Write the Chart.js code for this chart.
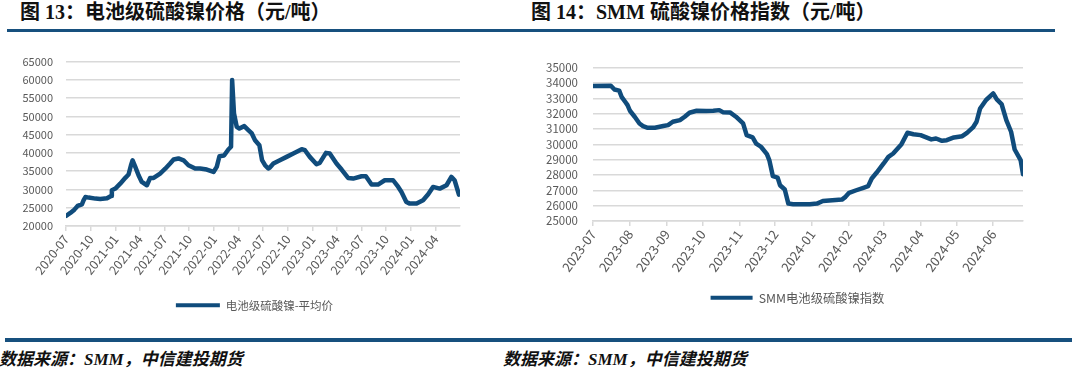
<!DOCTYPE html>
<html><head><meta charset="utf-8">
<script src="https://cdn.jsdelivr.net/npm/chart.js@4.4.1/dist/chart.umd.min.js"></script>
<style>
body{margin:0;width:1080px;height:377px;background:#fff;position:relative;overflow:hidden;font-family:"Noto Sans CJK SC",sans-serif;}
.title{position:absolute;top:0;font-family:"Liberation Serif","Noto Sans CJK SC",serif;font-weight:bold;font-size:20px;line-height:25px;color:#111;white-space:nowrap;}
.rule{position:absolute;background:#17507e;height:3px;}
.src{position:absolute;top:349px;font-family:"Liberation Serif","Noto Sans CJK SC",serif;font-weight:bold;font-style:italic;font-size:17px;line-height:22px;color:#111;white-space:nowrap;}
canvas{position:absolute;}
</style></head>
<body>
<div class="title" style="left:20px">图 13：电池级硫酸镍价格（元/吨）</div>
<div class="title" style="left:531px">图 14：SMM 硫酸镍价格指数（元/吨）</div>
<div class="rule" style="left:7px;width:1048px;top:29px"></div>
<div class="rule" style="left:5px;width:1067px;top:338px;height:3.5px"></div>
<div class="src" style="left:-1px">数据来源：SMM，中信建投期货</div>
<div class="src" style="left:503px">数据来源：SMM，中信建投期货</div>
<canvas id="c1" width="540" height="281" style="left:0;top:40px"></canvas>
<canvas id="c2" width="540" height="274" style="left:540px;top:40px"></canvas>
<script>
// ---- Chart 13 data ----
const leftSeriesName = '电池级硫酸镍-平均价';
const leftDates = ['2020-07-01','2020-07-17','2020-08-01','2020-08-13','2020-08-29','2020-09-04','2020-09-11','2020-09-23','2020-10-18','2020-11-05','2020-11-30','2020-12-15','2020-12-18','2020-12-31','2021-01-18','2021-02-06','2021-02-18','2021-02-27','2021-03-05','2021-03-15','2021-03-27','2021-04-08','2021-04-27','2021-05-09','2021-05-22','2021-06-15','2021-07-04','2021-07-22','2021-08-04','2021-08-22','2021-09-10','2021-09-28','2021-10-23','2021-11-10','2021-12-05','2021-12-30','2022-01-11','2022-01-21','2022-02-07','2022-02-23','2022-03-05','2022-03-09','2022-03-16','2022-03-26','2022-04-05','2022-04-23','2022-05-08','2022-05-21','2022-06-02','2022-06-18','2022-06-28','2022-07-09','2022-07-21','2022-07-27','2022-08-09','2022-09-02','2022-09-27','2022-10-22','2022-11-22','2022-12-04','2022-12-22','2023-01-16','2023-01-28','2023-02-20','2023-03-06','2023-03-31','2023-04-19','2023-05-13','2023-06-01','2023-07-02','2023-07-18','2023-08-08','2023-09-01','2023-09-26','2023-10-27','2023-11-15','2023-11-27','2023-12-15','2023-12-28','2024-01-22','2024-02-15','2024-03-05','2024-03-23','2024-04-17','2024-05-12','2024-05-30','2024-06-11','2024-06-27'];
const leftValues = [22750,23570,24480,25500,25950,27000,27950,27780,27500,27400,27600,28230,29800,30250,31600,33200,34100,36650,38000,36200,33900,32080,31160,33170,33170,34360,35700,37100,38200,38500,38000,36650,35750,35750,35460,34800,36200,39100,39300,40950,41700,60000,50800,47170,46700,47350,46260,45340,43510,42140,38020,36650,35740,36000,37100,38000,38930,39850,41040,40760,38930,36920,37290,40030,39850,37100,35460,33170,32990,33630,33630,31340,31340,32530,32530,30700,29330,26590,26130,26130,27040,28690,30700,30240,31160,33440,32530,28600];
const leftTickLabels = ['2020-07','2020-10','2021-01','2021-04','2021-07','2021-10','2022-01','2022-04','2022-07','2022-10','2023-01','2023-04','2023-07','2023-10','2024-01','2024-04'];
const leftRange = ['2020-07-01','2024-07-01'];
const leftY = [20000, 65000, 5000];

// ---- Chart 14 data ----
const rightSeriesName = 'SMM电池级硫酸镍指数';
const rightDates = ['2023-07-01','2023-07-16','2023-07-19','2023-07-23','2023-07-25','2023-07-28','2023-07-30','2023-08-01','2023-08-05','2023-08-09','2023-08-12','2023-08-16','2023-08-22','2023-08-29','2023-09-02','2023-09-06','2023-09-12','2023-09-16','2023-09-20','2023-09-26','2023-10-04','2023-10-10','2023-10-15','2023-10-18','2023-10-24','2023-10-29','2023-11-04','2023-11-07','2023-11-12','2023-11-15','2023-11-19','2023-11-24','2023-11-26','2023-11-29','2023-12-03','2023-12-05','2023-12-09','2023-12-12','2023-12-16','2023-12-30','2024-01-05','2024-01-10','2024-01-18','2024-01-26','2024-01-29','2024-02-01','2024-02-07','2024-02-13','2024-02-17','2024-02-20','2024-02-24','2024-03-01','2024-03-05','2024-03-09','2024-03-16','2024-03-21','2024-03-26','2024-04-01','2024-04-10','2024-04-14','2024-04-19','2024-04-23','2024-04-29','2024-05-06','2024-05-10','2024-05-15','2024-05-18','2024-05-21','2024-05-26','2024-06-01','2024-06-04','2024-06-08','2024-06-12','2024-06-16','2024-06-19','2024-06-24','2024-06-26'];
const rightValues = [33800,33820,33580,33500,33100,32780,32560,32190,31800,31360,31190,31080,31080,31190,31250,31470,31580,31800,32060,32190,32170,32190,32230,32100,32080,31800,31360,30600,30450,30050,29840,29360,28970,27920,27830,27330,27050,26130,26090,26090,26130,26300,26350,26390,26570,26830,27000,27160,27270,27770,28140,28750,29180,29400,30010,30750,30660,30600,30320,30380,30230,30270,30450,30530,30750,31100,31470,32340,32890,33320,32930,32630,31580,30820,29660,28970,28050];
const rightTickLabels = ['2023-07','2023-08','2023-09','2023-10','2023-11','2023-12','2024-01','2024-02','2024-03','2024-04','2024-05','2024-06'];
const rightRange = ['2023-07-01','2024-06-26'];
const rightY = [25000, 35000, 1000];

const LINE = '#104c7c';
const GRID = '#d9d9d9';
const TXT = '#595959';
const FONT = '"Noto Sans CJK SC", "Noto Sans", sans-serif';

function dayOf(s, base){ return (Date.parse(s) - Date.parse(base)) / 864e5; }

function makeChart(id, cfg){
  const base = cfg.range[0];
  const pts = cfg.dates.map((d,i)=>({x: dayOf(d, base), y: cfg.values[i]}));
  const tickVals = cfg.tickLabels.map(l => dayOf(l + '-01', base));
  return new Chart(document.getElementById(id), {
    type: 'line',
    data: { datasets: [{ label: cfg.name, data: pts, borderColor: LINE, backgroundColor: LINE,
      borderWidth: 4.5, pointRadius: 0, tension: 0, borderJoinStyle: 'round', borderCapStyle: 'round' }] },
    plugins: [{ id: 'legendPlace', afterLayout: ch => { ch.legend.left = cfg.legendSpan[0]; ch.legend.right = cfg.legendSpan[1]; } }],
    options: {
      responsive: false, maintainAspectRatio: false, animation: false, devicePixelRatio: 1,
      layout: { padding: cfg.padding },
      plugins: {
        tooltip: { enabled: false },
        legend: { position: 'bottom',
          labels: { boxWidth: cfg.boxW, boxHeight: 4, padding: 10, color: TXT,
            font: { family: FONT, size: cfg.legendSize },
            generateLabels: ch => ch.data.datasets.map((ds,i)=>({ text: ds.label, fillStyle: ds.borderColor,
              strokeStyle: ds.borderColor, lineWidth: 0, hidden: false, datasetIndex: i, fontColor: TXT })) } }
      },
      scales: {
        x: { type: 'linear', min: 0, max: dayOf(cfg.range[1], base),
          afterBuildTicks: ax => { ax.ticks = tickVals.map(v => ({ value: v })); },
          afterFit: ax => { ax.height = cfg.xH; },
          ticks: { autoSkip: false, minRotation: cfg.rot, maxRotation: cfg.rot, padding: 1, color: TXT,
            font: { family: FONT, size: cfg.xTickSize },
            callback: (v, i) => cfg.tickLabels[i] },
          grid: { display: true, drawOnChartArea: false, drawTicks: true, tickLength: 5, color: GRID, lineWidth: 1.5 },
          border: { display: true, color: GRID, width: 1.5 } },
        y: { min: cfg.y[0], max: cfg.y[1],
          afterBuildTicks: ax => { const t=[]; for (let v=cfg.y[0]; v<=cfg.y[1]; v+=cfg.y[2]) t.push({value:v}); ax.ticks=t; },
          afterFit: ax => { ax.width = cfg.yW; },
          ticks: { autoSkip: false, padding: cfg.yPad, color: TXT, font: { family: FONT, size: cfg.tickSize }, callback: v => String(v) },
          grid: { color: GRID, lineWidth: 1.5, drawTicks: false },
          border: { display: false } }
      }
    }
  });
}

makeChart('c1', { name: leftSeriesName, dates: leftDates, values: leftValues, tickLabels: leftTickLabels,
  range: leftRange, y: leftY, padding: { left: 0, right: 80, top: 21.7, bottom: 0 },
  yW: 66, yPad: 13, xH: 63.5, boxW: 44, legendSize: 11.5, tickSize: 11, xTickSize: 12.5, rot: 52,
  legendSpan: [49, 460] });

makeChart('c2', { name: rightSeriesName, dates: rightDates, values: rightValues, tickLabels: rightTickLabels,
  range: rightRange, y: rightY, padding: { left: 0, right: 57, top: 27.7, bottom: 0 },
  yW: 53, yPad: 15, xH: 60.8, boxW: 42, legendSize: 12.3, tickSize: 11.5, xTickSize: 13, rot: 54,
  legendSpan: [32, 483] });
</script>
</body></html>
